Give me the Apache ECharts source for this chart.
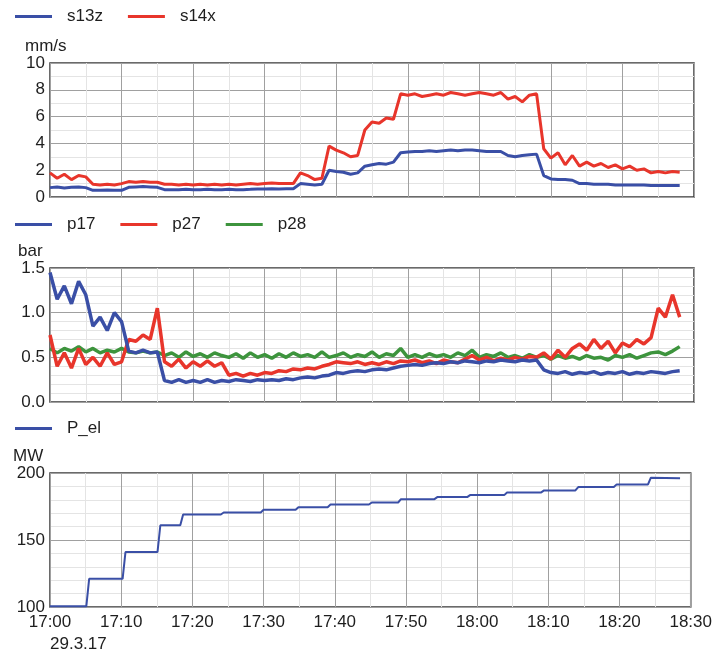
<!DOCTYPE html>
<html>
<head>
<meta charset="utf-8">
<script src="https://cdn.jsdelivr.net/npm/echarts@6/dist/echarts.min.js"></script>
<style>
  html, body { margin: 0; padding: 0; background: #fff; }
  #chart { width: 715px; height: 657px; }
</style>
</head>
<body>
<div id="chart"></div>
<script>
// one sample per minute, index = minutes after 17:00
var s13z = [
  0.7, 0.75, 0.68, 0.72, 0.75, 0.7, 0.5, 0.5, 0.52, 0.5,
  0.5, 0.72, 0.75, 0.78, 0.75, 0.72, 0.55, 0.55, 0.55, 0.57,
  0.55, 0.55, 0.57, 0.55, 0.55, 0.57, 0.55, 0.55, 0.57, 0.6,
  0.6, 0.62, 0.6, 0.62, 0.62, 1.0, 0.95, 0.9, 0.95, 2.0,
  1.9, 1.85, 1.7, 1.8, 2.3, 2.4, 2.5, 2.45, 2.6, 3.3,
  3.35, 3.4, 3.4, 3.45, 3.4, 3.45, 3.5, 3.45, 3.5, 3.5,
  3.45, 3.4, 3.4, 3.4, 3.1, 3.0, 3.1, 3.15, 3.2, 1.6,
  1.35, 1.3, 1.3, 1.25, 1.0, 1.0, 0.95, 0.95, 0.95, 0.9,
  0.9, 0.9, 0.9, 0.9, 0.85, 0.85, 0.85, 0.85, 0.85
];
var s14x = [
  1.8, 1.4, 1.7, 1.3, 1.6, 1.5, 0.95, 0.9, 0.95, 0.9,
  1.0, 1.15, 1.1, 1.15, 1.1, 1.1, 0.95, 0.95, 0.9, 0.95,
  0.9, 0.95, 0.9, 0.95, 0.9, 0.95, 0.9, 0.95, 1.0, 0.95,
  1.0, 1.05, 1.0, 1.0, 1.0, 1.8, 1.6, 1.3, 1.4, 3.8,
  3.5, 3.3, 3.0, 3.1, 5.0, 5.6, 5.5, 5.9, 5.8, 7.7,
  7.6, 7.7, 7.5, 7.6, 7.7, 7.6, 7.8, 7.7, 7.6, 7.7,
  7.8, 7.7, 7.6, 7.8, 7.3, 7.5, 7.1, 7.6, 7.7, 3.6,
  2.9, 3.3, 2.4, 3.1, 2.3, 2.6, 2.3, 2.5, 2.2, 2.4,
  2.1, 2.3, 2.0, 2.1, 1.8, 1.9, 1.8, 1.9, 1.85
];
var p17 = [
  1.45, 1.15, 1.3, 1.1, 1.35, 1.2, 0.85, 0.95, 0.8, 1.0,
  0.9, 0.57, 0.55, 0.58, 0.55, 0.56, 0.24, 0.22, 0.25, 0.22,
  0.24, 0.22, 0.25, 0.22, 0.24, 0.23, 0.25, 0.24, 0.23, 0.25,
  0.24, 0.25, 0.24, 0.26, 0.25, 0.27, 0.28, 0.27, 0.29, 0.3,
  0.33, 0.32, 0.34, 0.35, 0.34, 0.36, 0.37, 0.36, 0.38, 0.4,
  0.41, 0.42, 0.41, 0.43, 0.44, 0.43, 0.45, 0.44, 0.46, 0.45,
  0.44, 0.46, 0.45, 0.47, 0.46, 0.45, 0.47, 0.46, 0.47, 0.36,
  0.33, 0.32, 0.34, 0.31, 0.33, 0.32, 0.34, 0.31, 0.33, 0.32,
  0.34, 0.31, 0.33, 0.32, 0.34, 0.33, 0.32, 0.34, 0.35
];
var p27 = [
  0.75, 0.4, 0.55, 0.38, 0.6, 0.42, 0.5, 0.4, 0.55, 0.42,
  0.45, 0.7, 0.68, 0.75, 0.7, 1.05, 0.45, 0.4, 0.48, 0.38,
  0.45, 0.4, 0.46, 0.4, 0.44, 0.3, 0.32, 0.29, 0.32, 0.3,
  0.33, 0.32, 0.35, 0.34, 0.37, 0.36, 0.38, 0.37, 0.4, 0.42,
  0.45, 0.44, 0.43, 0.45, 0.42, 0.44, 0.42, 0.45, 0.43, 0.46,
  0.45, 0.47, 0.44, 0.46, 0.43, 0.47, 0.45, 0.44, 0.48, 0.52,
  0.47, 0.5, 0.46, 0.49, 0.47, 0.5, 0.48, 0.51, 0.5, 0.55,
  0.48, 0.58, 0.5, 0.6, 0.65, 0.58, 0.7, 0.6, 0.68, 0.55,
  0.66, 0.62, 0.7, 0.65, 0.72, 1.05, 0.95, 1.2, 0.95
];
var p28 = [
  0.6, 0.55, 0.6, 0.57, 0.62, 0.56, 0.6, 0.55, 0.58, 0.56,
  0.6, 0.56, 0.55, 0.57, 0.55, 0.56, 0.52, 0.55, 0.5, 0.56,
  0.51, 0.54, 0.5, 0.55, 0.52, 0.5, 0.54, 0.49, 0.55, 0.5,
  0.53, 0.49, 0.54, 0.5, 0.55, 0.51, 0.53, 0.5, 0.56, 0.5,
  0.52, 0.55, 0.5, 0.53, 0.51, 0.56, 0.5, 0.54, 0.52, 0.6,
  0.5, 0.53, 0.5, 0.54, 0.51, 0.53, 0.5, 0.55, 0.52, 0.58,
  0.5, 0.53, 0.51, 0.55, 0.5, 0.52, 0.49, 0.53, 0.5, 0.52,
  0.48, 0.52, 0.49, 0.51, 0.48, 0.52, 0.49, 0.5, 0.47, 0.52,
  0.5, 0.53, 0.49, 0.52, 0.55, 0.56, 0.53, 0.57, 0.62
];
// P_el is a staircase, kept as (minute, MW) break points
var pelTimes = [0, 5.1, 5.5, 10.2, 10.6, 15.1, 15.5, 18.3, 18.7, 24.0, 24.4, 29.6, 30.0, 34.5, 34.9,
  39.0, 39.4, 44.8, 45.2, 48.9, 49.3, 54.0, 54.4, 58.6, 59.0, 63.8, 64.2, 69.0, 69.4,
  73.8, 74.2, 79.2, 79.6, 84.0, 84.4, 88.5];
var pelValues = [100.5, 100.5, 121, 121, 141, 141, 161, 161, 169, 169, 170.5, 170.5, 172.5, 172.5, 174.5,
  174.5, 176.5, 176.5, 178, 178, 180.5, 180.5, 182, 182, 183.5, 183.5, 185.5, 185.5, 187,
  187, 189.5, 189.5, 191.5, 191.5, 196.5, 196];

var blue = '#3a4fa6', red = '#e8352b', green = '#3d943d';
var font = "'Liberation Sans', Arial, sans-serif";
var ink = '#1e1e1e';

function perMinute(arr) {
  return arr.map(function (v, i) { return [i, v]; });
}

function timeLabel(v) {
  var h = 17 + Math.floor(v / 60);
  var m = v % 60;
  return h + ':' + (m < 10 ? '0' : '') + m;
}

function timeAxis(idx, labels) {
  return {
    type: 'value', gridIndex: idx, min: 0, max: 90, interval: 10,
    axisLine: { show: false }, axisTick: { show: false },
    axisLabel: {
      show: labels, margin: 7, formatter: timeLabel,
      fontSize: 17, color: ink, fontFamily: font,
      showMinLabel: true, showMaxLabel: true
    },
    splitLine: { show: true, lineStyle: { color: '#a0a0a0' } },
    minorTick: { show: false, splitNumber: 2 },
    minorSplitLine: { show: true, lineStyle: { color: '#e4e4e4' } }
  };
}

function valueAxis(idx, min, max, step, minor, fmt) {
  return {
    type: 'value', gridIndex: idx, min: min, max: max, interval: step,
    axisLine: { show: false }, axisTick: { show: false },
    axisLabel: { fontSize: 17, color: ink, fontFamily: font, margin: 5, formatter: fmt,
      showMinLabel: true, showMaxLabel: true },
    splitLine: { show: true, lineStyle: { color: '#a0a0a0' } },
    minorTick: { show: false, splitNumber: minor },
    minorSplitLine: { show: true, lineStyle: { color: '#e4e4e4' } }
  };
}

function legend(top, names) {
  return {
    top: top, left: 10, data: names, icon: 'rect',
    itemWidth: 37, itemHeight: 3, itemGap: 25,
    textStyle: { fontSize: 17, color: ink, fontFamily: font, padding: [0, 0, 0, 10] }
  };
}

function line(name, color, x, y, data, width) {
  return {
    name: name, type: 'line', xAxisIndex: x, yAxisIndex: y, data: data,
    showSymbol: false, symbol: 'none', color: color,
    lineStyle: { color: color, width: width }
  };
}

var unitStyle = { fontSize: 17, fontWeight: 'normal', color: ink, fontFamily: font };

var chart = echarts.init(document.getElementById('chart'));
var option = {
  backgroundColor: '#fff',
  animation: false,
  title: [
    { text: 'mm/s', left: 20, top: 33, textStyle: unitStyle },
    { text: 'bar', left: 13, top: 238, textStyle: unitStyle },
    { text: 'MW', left: 8, top: 443, textStyle: unitStyle },
    { text: '29.3.17', left: 45, top: 631, textStyle: unitStyle }
  ],
  legend: [
    legend(3, ['s13z', 's14x']),
    legend(211, ['p17', 'p27', 'p28']),
    legend(415, ['P_el'])
  ],
  grid: [
    { left: 50, width: 644, top: 63, height: 134, show: true, borderColor: '#3a3a3a', borderWidth: 1.5 },
    { left: 50, width: 644, top: 268, height: 134, show: true, borderColor: '#3a3a3a', borderWidth: 1.5 },
    { left: 50, width: 644, top: 473, height: 134, show: true, borderColor: '#3a3a3a', borderWidth: 1.5 }
  ],
  xAxis: [timeAxis(0, false), timeAxis(1, false), timeAxis(2, true)],
  yAxis: [
    valueAxis(0, 0, 10, 2, 2),
    valueAxis(1, 0, 1.5, 0.5, 5, function (v) { return v.toFixed(1); }),
    valueAxis(2, 100, 200, 50, 5)
  ],
  series: [
    line('s13z', blue, 0, 0, perMinute(s13z), 3),
    line('s14x', red, 0, 0, perMinute(s14x), 3),
    line('p28', green, 1, 1, perMinute(p28), 3.5),
    line('p27', red, 1, 1, perMinute(p27), 3.5),
    line('p17', blue, 1, 1, perMinute(p17), 3.5),
    line('P_el', blue, 2, 2, pelTimes.map(function (t, i) { return [t, pelValues[i]]; }), 2)
  ]
};
option && chart.setOption(option);
</script>
</body>
</html>
